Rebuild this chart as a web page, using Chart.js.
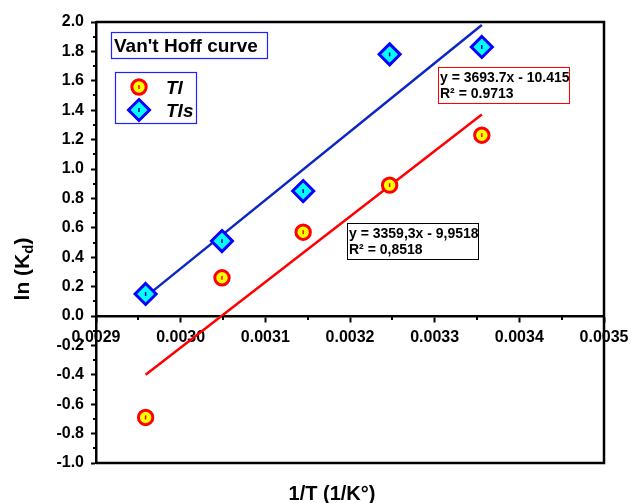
<!DOCTYPE html>
<html>
<head>
<meta charset="utf-8">
<script src="https://cdn.jsdelivr.net/npm/chart.js@4/dist/chart.umd.min.js"></script>
<style>
  html, body { margin: 0; padding: 0; background: #fff; }
  canvas { display: block; }
</style>
</head>
<body>
<canvas id="c" width="632" height="503"></canvas>
<script>
// 1/T values (1/K) for each adsorption temperature
const invT = [0.0029586, 0.0030488, 0.0031447, 0.0032468, 0.0033557];
// ln(Kd) for each material
const lnKdTl  = [-0.69, 0.26, 0.57, 0.89, 1.23];
const lnKdTls = [0.15, 0.51, 0.85, 1.78, 1.83];
// linear trend lines (end points)
const fitX   = [0.0029586, 0.0033557];
const fitTl  = [-0.40, 1.37];
const fitTls = [0.13, 1.98];
// axis tick labels
const xTickLabels = ['0.0029', '0.0030', '0.0031', '0.0032', '0.0033', '0.0034', '0.0035'];
const yTickLabels = ['-1.0', '-0.8', '-0.6', '-0.4', '-0.2', '0.0', '0.2', '0.4', '0.6', '0.8', '1.0', '1.2', '1.4', '1.6', '1.8', '2.0'];
// series names and fit annotations
const seriesNames = ['Tl', 'Tls'];
const eqTls = ['y = 3693.7x - 10.415', 'R² = 0.9713'];
const eqTl  = ['y = 3359,3x - 9,9518', 'R² = 0,8518'];

const FONT = '"Liberation Sans", Arial, Helvetica, sans-serif';
const RED = '#ff0000', YELLOW = '#ffff00', BLUE = '#0000ff', CYAN = '#00ffff', LINEBLUE = '#0c26c2';

const pts = (xs, ys) => xs.map((v, i) => ({ x: v, y: ys[i] }));

function drawCircleMark(ctx, x, y) {
  ctx.beginPath(); ctx.arc(x, y, 7.2, 0, Math.PI * 2);
  ctx.fillStyle = YELLOW; ctx.fill();
  ctx.lineWidth = 3; ctx.strokeStyle = RED; ctx.stroke();
  ctx.fillStyle = RED; ctx.fillRect(x - 0.75, y - 2, 1.5, 4);
}
function drawDiamondMark(ctx, x, y) {
  const r = 10.5;
  ctx.beginPath();
  ctx.moveTo(x, y - r); ctx.lineTo(x + r, y); ctx.lineTo(x, y + r); ctx.lineTo(x - r, y); ctx.closePath();
  ctx.fillStyle = CYAN; ctx.fill();
  ctx.lineWidth = 3; ctx.lineJoin = 'miter'; ctx.strokeStyle = BLUE; ctx.stroke();
  ctx.fillStyle = '#0000a0'; ctx.fillRect(x - 0.75, y - 2, 1.5, 4);
}

const decor = {
  id: 'decor',
  afterDatasetsDraw(chart) {
    const { ctx, chartArea: a, scales: { x, y } } = chart;
    ctx.save();
    // frame: top, right and bottom edges
    ctx.strokeStyle = '#000'; ctx.lineWidth = 2.5;
    ctx.beginPath();
    ctx.moveTo(a.left, a.top); ctx.lineTo(a.right, a.top);
    ctx.lineTo(a.right, a.bottom); ctx.lineTo(a.left, a.bottom);
    ctx.stroke();
    // minor ticks on the y axis (outside) and on the zero line (below)
    ctx.lineWidth = 2;
    ctx.beginPath();
    for (let v = -0.9; v < 2; v += 0.2) {
      const py = Math.round(y.getPixelForValue(v));
      ctx.moveTo(a.left, py); ctx.lineTo(a.left - 3, py);
    }
    const y0 = y.getPixelForValue(0);
    for (let v = 0.00295; v < 0.0035; v += 0.0001) {
      const px = Math.round(x.getPixelForValue(v));
      ctx.moveTo(px, y0); ctx.lineTo(px, y0 + 4);
    }
    ctx.stroke();

    // title box
    ctx.lineWidth = 1.2; ctx.strokeStyle = '#2020ff';
    ctx.strokeRect(111.5, 32.5, 156, 26);
    ctx.fillStyle = '#000'; ctx.font = 'bold 19px ' + FONT;
    ctx.textBaseline = 'alphabetic'; ctx.textAlign = 'left';
    ctx.fillText("Van't Hoff curve", 114, 52);

    // legend box
    ctx.strokeRect(115.5, 72.5, 81, 51);
    drawCircleMark(ctx, 139, 87);
    drawDiamondMark(ctx, 139, 110);
    ctx.fillStyle = '#000'; ctx.font = 'italic bold 19px ' + FONT;
    ctx.fillText(seriesNames[0], 166, 94);
    ctx.fillText(seriesNames[1], 166, 117);

    // fit equation boxes
    ctx.font = 'bold 14px ' + FONT;
    ctx.strokeStyle = RED; ctx.lineWidth = 1;
    ctx.strokeRect(438.5, 67.5, 131, 36);
    ctx.fillStyle = '#000';
    ctx.fillText(eqTls[0], 440, 82);
    ctx.fillText(eqTls[1], 440, 98);
    ctx.strokeStyle = '#000';
    ctx.strokeRect(347.5, 223.5, 131, 36);
    ctx.fillText(eqTl[0], 349, 238);
    ctx.fillText(eqTl[1], 349, 254);

    // axis titles
    ctx.font = 'bold 20px ' + FONT;
    ctx.textAlign = 'center';
    ctx.fillText('1/T (1/K°)', 332, 500);

    ctx.save();
    ctx.translate(29, 269);
    ctx.rotate(-Math.PI / 2);
    ctx.textAlign = 'left';
    const p1 = 'ln (K', p3 = ')';
    ctx.font = 'bold 21px ' + FONT;
    const w1 = ctx.measureText(p1).width, w3 = ctx.measureText(p3).width;
    ctx.font = 'bold 15px ' + FONT;
    const w2 = ctx.measureText('d').width;
    let sx = -(w1 + w2 + w3) / 2;
    ctx.font = 'bold 21px ' + FONT; ctx.fillText(p1, sx, 0); sx += w1;
    ctx.font = 'bold 15px ' + FONT; ctx.fillText('d', sx, 4); sx += w2;
    ctx.font = 'bold 21px ' + FONT; ctx.fillText(p3, sx, 0);
    ctx.restore();
    ctx.restore();
  }
};

const markerDraw = {
  id: 'markers',
  afterDatasetsDraw(chart) {
    const { ctx } = chart;
    ctx.save();
    chart.getDatasetMeta(0).data.forEach(el => drawCircleMark(ctx, el.x, el.y));
    chart.getDatasetMeta(1).data.forEach(el => drawDiamondMark(ctx, el.x, el.y));
    ctx.restore();
  }
};

const tickFont = { family: FONT, size: 16, weight: 'bold' };

new Chart(document.getElementById('c'), {
  type: 'scatter',
  data: {
    datasets: [
      { label: seriesNames[0], data: pts(invT, lnKdTl), pointRadius: 0, pointHoverRadius: 0, showLine: false },
      { label: seriesNames[1], data: pts(invT, lnKdTls), pointRadius: 0, pointHoverRadius: 0, showLine: false },
      { label: 'fit Tl', data: pts(fitX, fitTl), showLine: true, borderColor: RED, borderWidth: 2.5, pointRadius: 0 },
      { label: 'fit Tls', data: pts(fitX, fitTls), showLine: true, borderColor: LINEBLUE, borderWidth: 2.5, pointRadius: 0 }
    ]
  },
  options: {
    responsive: false,
    animation: false,
    devicePixelRatio: 1,
    layout: { padding: { top: 22, right: 28, bottom: 40, left: 0 } },
    plugins: { legend: { display: false }, tooltip: { enabled: false } },
    scales: {
      x: {
        type: 'linear', min: 0.0029, max: 0.0035,
        position: { y: 0 },
        afterFit: s => { s.height = 0; s.paddingLeft = 0; s.paddingRight = 0; },
        afterBuildTicks: s => { s.ticks = xTickLabels.map(t => ({ value: parseFloat(t) })); },
        ticks: {
          callback: (v, i) => xTickLabels[i],
          font: tickFont, color: '#000', padding: 7, maxRotation: 0, autoSkip: false
        },
        grid: { drawOnChartArea: false, drawTicks: true, tickLength: 5, tickWidth: 2, tickColor: '#000' },
        border: { display: true, color: '#000', width: 2.5 }
      },
      y: {
        type: 'linear', min: -1, max: 2,
        afterFit: s => { s.width = 96; },
        afterBuildTicks: s => { s.ticks = yTickLabels.map(t => ({ value: parseFloat(t) })); },
        ticks: {
          callback: (v, i) => yTickLabels[i],
          font: tickFont, color: '#000', padding: 7
        },
        grid: { drawOnChartArea: false, drawTicks: true, tickLength: 5, tickWidth: 2, tickColor: '#000' },
        border: { display: true, color: '#000', width: 2.5 }
      }
    }
  },
  plugins: [decor, markerDraw]
});
</script>
</body>
</html>
